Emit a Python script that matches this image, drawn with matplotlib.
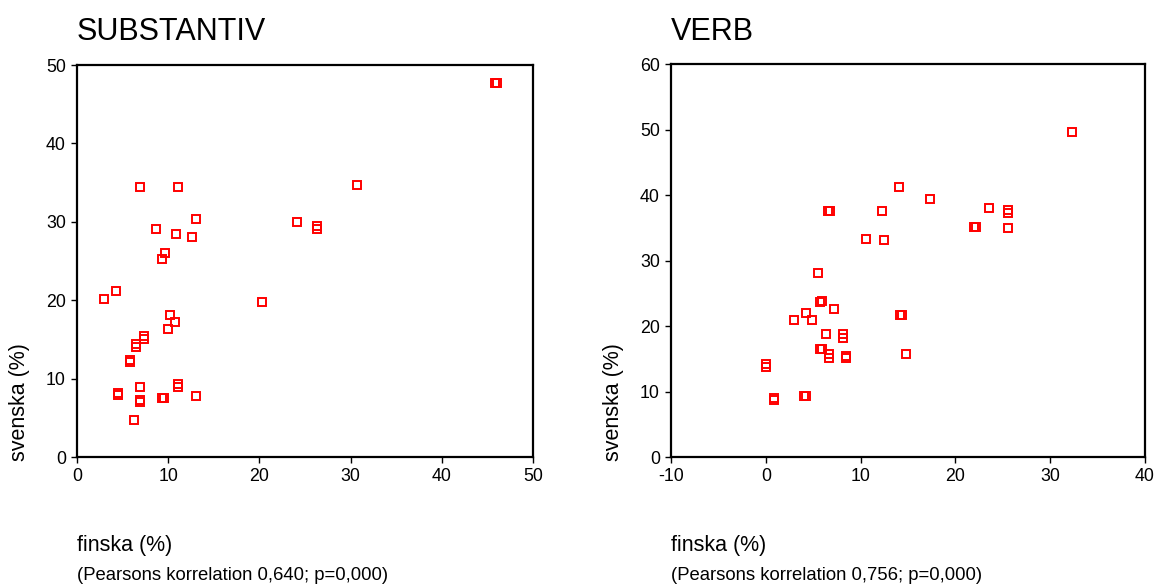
import matplotlib
matplotlib.use("Agg")
import matplotlib.pyplot as plt

plt.rcParams['font.family'] = ['Liberation Sans', 'DejaVu Sans']
plt.rcParams['axes.unicode_minus'] = False

# SUBSTANTIV panel data
subst_finska = [6.9, 11.1, 13.1, 8.7, 10.9, 12.6, 9.6, 9.3, 4.3, 3.0, 10.2, 10.7, 10.0,
                7.4, 7.4, 6.5, 6.5, 5.8, 5.8, 4.5, 4.5, 6.9, 6.9, 6.9, 11.1, 11.1, 9.3,
                9.5, 13.1, 6.3, 20.3, 24.1, 30.7, 26.3, 26.3, 45.85, 46.0]
subst_svenska = [34.5, 34.5, 30.4, 29.1, 28.4, 28.1, 26.1, 25.3, 21.2, 20.2, 18.2, 17.2, 16.4,
                 15.4, 15.1, 14.4, 14.1, 12.4, 12.1, 8.25, 7.95, 9.0, 7.3, 7.0, 9.3, 9.0, 7.5,
                 7.5, 7.75, 4.7, 19.8, 30.0, 34.75, 29.45, 29.15, 47.7, 47.7]

# VERB panel data
verb_finska = [14.0, 17.3, 6.6, 6.8, 12.3, 10.6, 12.5, 5.5, 5.7, 5.9, 7.2, 4.2, 3.0, 4.9,
               14.2, 14.4, 6.4, 8.1, 8.1, 5.75, 5.95, 6.7, 6.7, 8.5, 8.5, 14.8, 0.0, 0.0,
               0.9, 0.9, 4.0, 4.2, 32.3, 23.5, 25.5, 25.5, 22.0, 22.2, 25.6]
verb_svenska = [41.3, 39.5, 37.6, 37.6, 37.6, 33.4, 33.1, 28.2, 23.7, 23.9, 22.7, 22.1, 20.9, 20.9,
                21.8, 21.8, 18.8, 18.8, 18.2, 16.6, 16.6, 15.8, 15.1, 15.5, 15.1, 15.7, 14.2, 13.8,
                9.1, 8.7, 9.3, 9.3, 49.6, 38.0, 37.3, 37.7, 35.2, 35.2, 35.0]

titles = ["SUBSTANTIV", "VERB"]
xlabel = "finska (%)"
ylabel = "svenska (%)"
notes = ["(Pearsons korrelation 0,640; p=0,000)", "(Pearsons korrelation 0,756; p=0,000)"]
xlims = [(0, 50), (-10, 40)]
ylims = [(0, 50), (0, 60)]
xticks = [[0, 10, 20, 30, 40, 50], [-10, 0, 10, 20, 30, 40]]
yticks = [[0, 10, 20, 30, 40, 50], [0, 10, 20, 30, 40, 50, 60]]

W, H = 1156, 584
fig = plt.figure(figsize=(W / 100, H / 100), dpi=100)

rects = [
    (77 / W, (H - 457.3) / H, 456 / W, 392.3 / H),
    (671 / W, (H - 457.3) / H, 474 / W, 393 / H),
]
data = [(subst_finska, subst_svenska), (verb_finska, verb_svenska)]
label_x = [20, 614]

for i in range(2):
    ax = fig.add_axes(rects[i])
    xs, ys = data[i]
    ax.plot(xs, ys, linestyle='none', marker='s', markersize=5.2,
            markerfacecolor='none', markeredgecolor='#ff0000', markeredgewidth=1.4)
    ax.set_xlim(*xlims[i])
    ax.set_ylim(*ylims[i])
    ax.set_xticks(xticks[i])
    ax.set_yticks(yticks[i])
    ax.tick_params(direction='out', length=4, width=1, pad=4, labelsize=12.8, colors='black')
    for s in ax.spines.values():
        s.set_linewidth(1.6)
        s.set_color('black')
    x0 = rects[i][0]
    fig.text(x0, 1 - 32 / H, titles[i], fontsize=22, ha='left', va='center')
    fig.text(x0, 1 - 545 / H, xlabel, fontsize=15.5, ha='left', va='center')
    fig.text(x0, 1 - 576 / H, notes[i], fontsize=13.3, ha='left', va='center')
    fig.text(label_x[i] / W, 1 - 402 / H, ylabel, fontsize=15.5, rotation=90,
             ha='center', va='center')

fig.savefig("out.png", dpi=100)
